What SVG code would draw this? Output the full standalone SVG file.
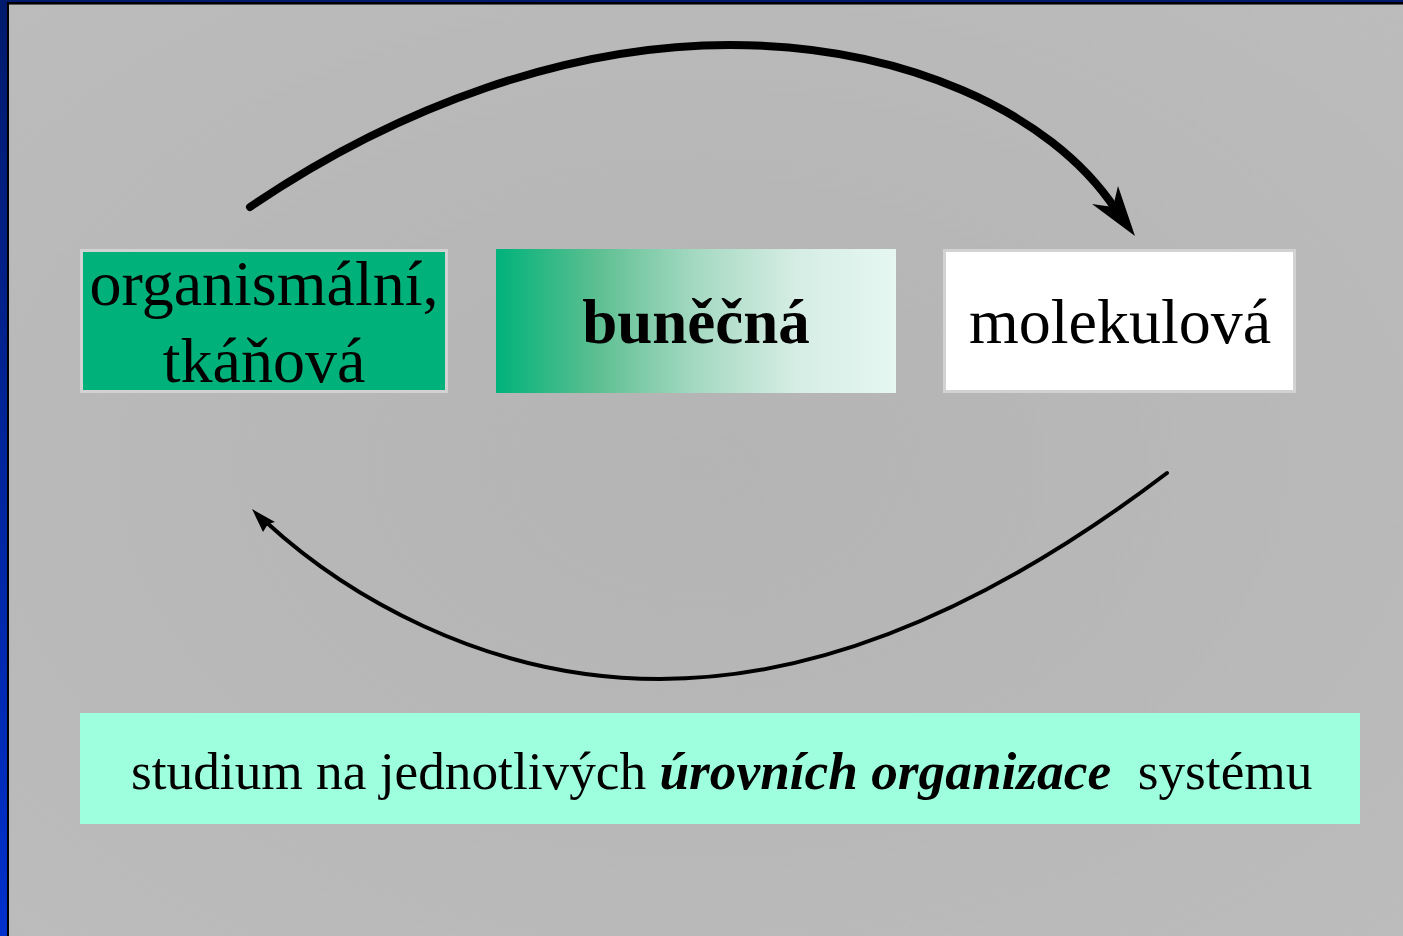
<svg xmlns="http://www.w3.org/2000/svg" width="1403" height="936" viewBox="0 0 1403 936">
  <style>
    .t { font-family: "Liberation Serif", "Times New Roman", serif; fill: #000; }
    .lbl { text-anchor: middle; }
    .conn { fill: none; stroke: #000; stroke-linecap: round; }
  </style>
  <defs>
    <radialGradient id="bg" cx="0.5" cy="0.5" r="0.75">
      <stop offset="0" stop-color="#b4b4b4"/>
      <stop offset="1" stop-color="#bcbcbc"/>
    </radialGradient>
    <linearGradient id="blue" x1="0" y1="0" x2="0" y2="1">
      <stop offset="0" stop-color="#001a6c"/>
      <stop offset="1" stop-color="#0030cc"/>
    </linearGradient>
    <linearGradient id="cell" x1="0" y1="0" x2="1" y2="0">
      <stop offset="0" stop-color="#00b27a"/>
      <stop offset="0.25" stop-color="#5cbf91"/>
      <stop offset="0.5" stop-color="#a5d9c2"/>
      <stop offset="0.75" stop-color="#d5ede4"/>
      <stop offset="1" stop-color="#e6f7f2"/>
    </linearGradient>
  </defs>

  <!-- background and frame -->
  <rect x="0" y="0" width="1403" height="936" fill="url(#bg)"/>
  <rect x="0" y="0" width="1403" height="2" fill="#001a6c"/>
  <rect x="0" y="0" width="7" height="936" fill="url(#blue)"/>
  <rect x="7" y="2" width="1396" height="2" fill="#000"/>
  <rect x="7" y="2" width="2" height="934" fill="#000"/>
  <rect x="9" y="4" width="1394" height="1" fill="#555"/>

  <!-- connectors -->
  <g id="connectors">
    <path class="conn" stroke-width="8" d="M250,207 C400,105 570,45 730,45 C900,45 1050,110 1116,210"/>
    <polygon points="1135,236 1092,204 1113,207 1118,186" fill="#000"/>
    <path class="conn" stroke-width="4" d="M1167,473 C1000,600 830,679 660,679 C480,679 340,590 266,522"/>
    <polygon points="252,509 275,522 268,524 263,532" fill="#000"/>
  </g>

  <g id="node-organismalni">
    <rect x="81.5" y="250.5" width="365" height="141" fill="#00b27a" stroke="#d2d2d2" stroke-width="3"/>
    <text class="t lbl" x="264" y="305" font-size="64">organismální,</text>
    <text class="t lbl" x="264" y="382" font-size="64">tkáňová</text>
  </g>

  <g id="node-bunecna">
    <rect x="496" y="249" width="400" height="144" fill="url(#cell)"/>
    <text class="t lbl" x="696" y="343" font-size="63" font-weight="bold">buněčná</text>
  </g>

  <g id="node-molekulova">
    <rect x="944.5" y="250.5" width="350" height="141" fill="#ffffff" stroke="#d2d2d2" stroke-width="3"/>
    <text class="t lbl" x="1120" y="343" font-size="64">molekulová</text>
  </g>

  <g id="node-studium">
    <rect x="80" y="713" width="1280" height="111" fill="#9effdf"/>
    <text class="t" x="131" y="789" font-size="53.3" xml:space="preserve">studium na jednotlivých <tspan font-weight="bold" font-style="italic">úrovních organizace</tspan>  systému</text>
  </g>
</svg>
